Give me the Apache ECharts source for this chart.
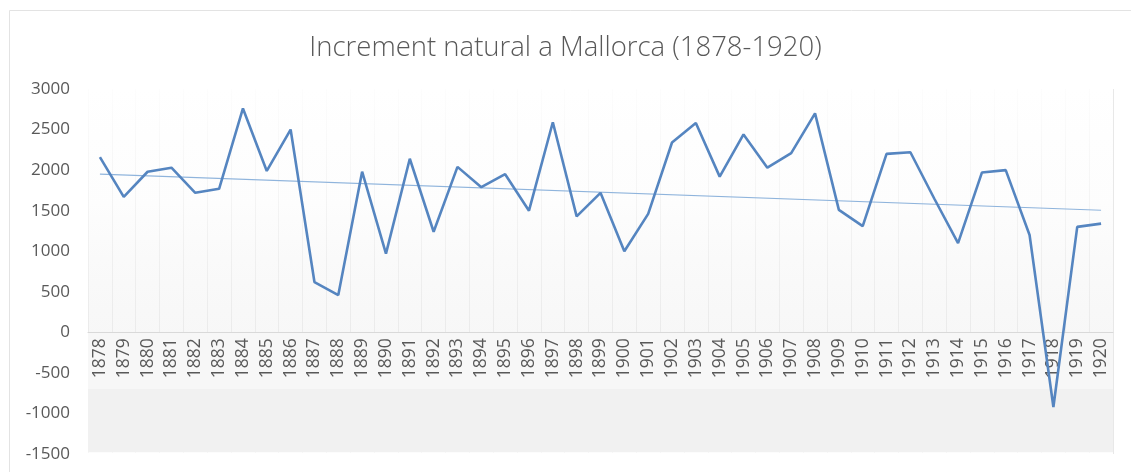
<!DOCTYPE html>
<html>
<head>
<meta charset="utf-8">
<script src="https://cdn.jsdelivr.net/npm/echarts@6/dist/echarts.min.js"></script>
<style>
html,body{margin:0;padding:0;background:#fff;}
#chart{width:1131px;height:472px;}
</style>
</head>
<body>
<div id="chart"></div>
<script>
const years = ['1878','1879','1880','1881','1882','1883','1884','1885','1886','1887','1888','1889','1890','1891','1892','1893','1894','1895','1896','1897','1898','1899','1900','1901','1902','1903','1904','1905','1906','1907','1908','1909','1910','1911','1912','1913','1914','1915','1916','1917','1918','1919','1920'];
const increment = [2160,1670,1980,2030,1720,1770,2760,1990,2500,620,460,1980,970,2140,1240,2040,1790,1950,1500,2590,1430,1720,1000,1460,2340,2580,1920,2440,2030,2210,2700,1510,1310,2200,2220,1650,1100,1970,2000,1200,-920,1300,1340];
const trendEnds = [1950, 1505];
const yTicks = {min: -1500, max: 3000, interval: 500};
const titleText = 'Increment natural a Mallorca (1878-1920)';

const trend = years.map((y, i) => i === 0 ? trendEnds[0] : (i === years.length - 1 ? trendEnds[1] : null));

const gridTop = 89, gridBottom = 18, chartH = 472;
const plotH = chartH - gridTop - gridBottom;
// move category axis up to the zero line of the value axis
const zeroOffset = -plotH * (0 - yTicks.min) / (yTicks.max - yTicks.min);

const chart = echarts.init(document.getElementById('chart'), null, {renderer: 'canvas'});
const fontFam = '"Open Sans", "Noto Sans", sans-serif';
chart.setOption({
  animation: false,
  backgroundColor: '#fff',
  graphic: [{
    type: 'rect', left: 7, top: 8, shape: {width: 1140, height: 480},
    style: {fill: 'none', stroke: '#e3e3e3', lineWidth: 1}, silent: true
  }],
  title: {
    text: titleText, left: 'center', top: 29,
    textStyle: {fontFamily: fontFam, fontWeight: 300, fontSize: 27.5, color: '#595959'}
  },
  grid: {left: 88, right: 18, top: gridTop, bottom: gridBottom, containLabel: false, outerBoundsMode: 'none'},
  xAxis: [{
    type: 'category', data: years, boundaryGap: true, offset: zeroOffset, z: 10,
    axisLine: {onZero: false, lineStyle: {color: '#d9d9d9', width: 1}},
    axisTick: {show: false},
    axisLabel: {rotate: 90, interval: 0, margin: 6, color: '#595959', fontFamily: fontFam, fontSize: 17.5},
    splitLine: {show: false}
  }, {
    type: 'category', data: years, boundaryGap: true, position: 'bottom', z: 0,
    axisLine: {show: false}, axisTick: {show: false}, axisLabel: {show: false},
    splitLine: {show: true, interval: 0, lineStyle: {color: 'rgba(0,0,0,0.09)', width: 1}}
  }],
  yAxis: {
    type: 'value', min: yTicks.min, max: yTicks.max, interval: yTicks.interval,
    axisLine: {show: false}, axisTick: {show: false},
    axisLabel: {margin: 18, color: '#595959', fontFamily: fontFam, fontSize: 17, formatter: v => String(v)},
    splitLine: {show: false}
  },
  series: [{
    type: 'line', data: increment, symbol: 'none', z: 12,
    lineStyle: {color: '#5585c0', width: 2.6}
  }, {
    type: 'line', data: trend, connectNulls: true, symbol: 'none', z: 2,
    lineStyle: {color: '#8fb4dc', width: 1.2},
    markArea: {
      silent: true,
      data: [
        [{yAxis: 3000, itemStyle: {color: new echarts.graphic.LinearGradient(0, 0, 0, 1, [{offset: 0, color: 'rgba(255,255,255,0.9)'}, {offset: 0.45, color: 'rgba(252,252,252,0.6)'}, {offset: 1, color: 'rgba(238,238,238,0.45)'}])}}, {yAxis: 0}],
        [{yAxis: 0, itemStyle: {color: '#f7f7f7'}}, {yAxis: -700}],
        [{yAxis: -700, itemStyle: {color: '#f1f1f1'}}, {yAxis: -1480}],
        [{yAxis: -1480, itemStyle: {color: '#ffffff'}}, {yAxis: -1500}]
      ]
    }
  }]
});
</script>
</body>
</html>
